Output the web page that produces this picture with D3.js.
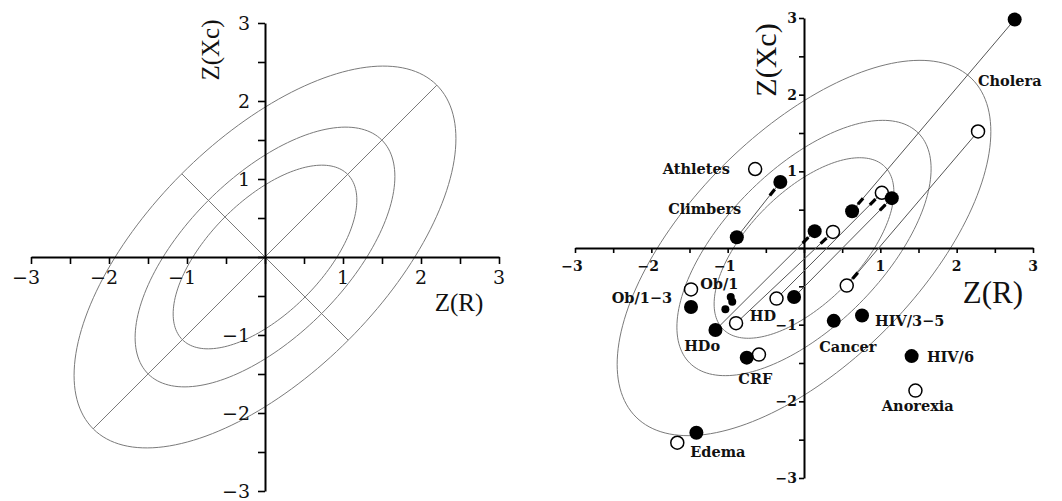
<!DOCTYPE html>
<html>
<head>
<meta charset="utf-8">
<script src="https://cdn.jsdelivr.net/npm/d3@7"></script>
<style>
  body { margin: 0; background: #fff; }
  svg { display: block; }
</style>
</head>
<body>
<svg id="chart" width="1062" height="501"></svg>
<script>
// Z-score axes: labelled ticks and half-unit tick marks
const tickLabels = [-3, -2, -1, 1, 2, 3];
const tickMarks = [-3, -2.5, -2, -1.5, -1, -0.5, 0, 0.5, 1, 1.5, 2, 2.5, 3];

// Tolerance ellipses (probability levels) and the R–Xc correlation
const ellipseLevels = [0.50, 0.75, 0.95];
const correlation = 0.62;

// Group mean vectors, Z(R) and Z(Xc)
const filledPoints = [
  [2.76, 2.98], [0.63, 0.48], [-0.88, 0.14], [-0.31, 0.86],
  [0.14, 0.22], [1.15, 0.65], [-1.48, -0.77], [-1.16, -1.07],
  [-0.13, -0.64], [0.39, -0.95], [0.76, -0.88], [1.41, -1.41],
  [-0.75, -1.43], [-1.41, -2.41]
];
const openPoints = [
  [2.28, 1.52], [0.56, -0.49], [-0.64, 1.03], [0.38, 0.21],
  [1.02, 0.72], [-1.48, -0.54], [-0.89, -0.98], [-0.36, -0.66],
  [-0.59, -1.39], [1.46, -1.86], [-1.66, -2.54]
];
const smallPoints = [[-0.96, -0.64], [-0.94, -0.70], [-1.03, -0.80]];

// Displacement vectors: from -> to
const vectors = [
  [[2.76, 2.98], [0.63, 0.48]],
  [[2.28, 1.52], [0.56, -0.49]],
  [[-0.88, 0.14], [-0.31, 0.86]],
  [[-0.89, -0.98], [0.38, 0.21]],
  [[-1.16, -1.07], [0.14, 0.22]],
  [[-0.36, -0.66], [1.02, 0.72]],
  [[-0.13, -0.64], [1.15, 0.65]]
];

// Group names and their anchor (start of text) in Z units
const groupLabels = [
  ["Athletes", -1.85, 1.04], ["Climbers", -1.78, 0.51], ["Cholera", 2.28, 2.19],
  ["Ob/1\u22123", -2.52, -0.65], ["Ob/1", -1.36, -0.46], ["HD", -0.71, -0.88],
  ["HDo", -1.57, -1.27], ["CRF", -0.86, -1.70], ["Cancer", 0.20, -1.29],
  ["HIV/3\u22125", 0.93, -0.94], ["HIV/6", 1.61, -1.42], ["Anorexia", 1.02, -2.06],
  ["Edema", -1.49, -2.66]
];

const svg = d3.select("#chart");
const minus = v => (v < 0 ? "\u2212" + Math.abs(v) : String(v));

function ellipsePath(level, x, y) {
  const r = Math.sqrt(-2 * Math.log(1 - level));
  const s = Math.sqrt(1 - correlation * correlation);
  const pts = d3.range(0, 361, 2).map(a => {
    const t = a * Math.PI / 180;
    return [r * Math.cos(t), r * (correlation * Math.cos(t) + s * Math.sin(t))];
  });
  return d3.line().x(d => x(d[0])).y(d => y(d[1])).curve(d3.curveLinearClosed)(pts);
}

function drawFrame(g, x, y, opt) {
  // ellipses
  ellipseLevels.forEach(p => {
    g.append("path").attr("d", ellipsePath(p, x, y))
      .attr("fill", "none").attr("stroke", "#7a7a7a").attr("stroke-width", 1);
  });
  // axes
  const xa = d3.axisBottom(x).tickValues(tickMarks).tickFormat("").tickSize(opt.tick).tickSizeOuter(0);
  const ya = d3.axisLeft(y).tickValues(tickMarks).tickFormat("").tickSize(opt.tick).tickSizeOuter(0);
  const gx = g.append("g").attr("transform", `translate(0,${y(0)})`).call(xa);
  const gy = g.append("g").attr("transform", `translate(${x(0)},0)`).call(ya);
  [gx, gy].forEach(a => {
    a.select(".domain").attr("stroke", "#000").attr("stroke-width", 2);
    a.selectAll(".tick line").attr("stroke", "#000").attr("stroke-width", 1.6);
  });
  // tick labels
  g.selectAll(null).data(tickLabels).join("text")
    .attr("x", d => x(d) + (d < 0 ? opt.negShift : 0))
    .attr("y", opt.xLabelY)
    .attr("text-anchor", "middle").attr("dominant-baseline", "central")
    .style("font", opt.tickFont).attr("fill", "#111")
    .text(minus);
  g.selectAll(null).data(tickLabels).join("text")
    .attr("x", x(0) - opt.yLabelGap)
    .attr("y", d => y(d))
    .attr("text-anchor", "end").attr("dominant-baseline", "central")
    .style("font", opt.tickFont).attr("fill", "#111")
    .text(minus);
  // axis titles
  g.append("text").attr("x", opt.rTitle[0]).attr("y", opt.rTitle[1])
    .attr("text-anchor", "middle").attr("dominant-baseline", "central")
    .style("font", opt.titleFont).attr("fill", "#111").text("Z(R)");
  g.append("text")
    .attr("transform", `translate(${opt.xcTitle[0]},${opt.xcTitle[1]}) rotate(-90)`)
    .attr("text-anchor", "middle").attr("dominant-baseline", "central")
    .style("font", opt.xcFont).attr("fill", "#111").text("Z(Xc)");
}

// ---- Left panel: ellipses with principal axes ----
const xL = d3.scaleLinear().domain([-3, 3]).range([31, 499]);
const yL = d3.scaleLinear().domain([-3, 3]).range([491, 23]);
const left = svg.append("g");
const rOuter = Math.sqrt(-2 * Math.log(1 - d3.max(ellipseLevels)));
const aMaj = rOuter * Math.sqrt((1 + correlation) / 2);
const aMin = rOuter * Math.sqrt((1 - correlation) / 2);
[[[-aMaj, -aMaj], [aMaj, aMaj]], [[-aMin, aMin], [aMin, -aMin]]].forEach(seg => {
  left.append("line")
    .attr("x1", xL(seg[0][0])).attr("y1", yL(seg[0][1]))
    .attr("x2", xL(seg[1][0])).attr("y2", yL(seg[1][1]))
    .attr("stroke", "#7a7a7a").attr("stroke-width", 1);
});
drawFrame(left, xL, yL, {
  tick: 7, negShift: -5, xLabelY: 277, yLabelGap: 15,
  tickFont: "19px 'DejaVu Serif'",
  titleFont: "25px 'Liberation Serif'", xcFont: "25px 'Liberation Serif'",
  rTitle: [459, 302], xcTitle: [210, 50]
});

// ---- Right panel: group vectors ----
const xR = d3.scaleLinear().domain([-3, 3]).range([575, 1033]);
const yR = d3.scaleLinear().domain([-3, 3]).range([478, 18]);
const right = svg.append("g");
drawFrame(right, xR, yR, {
  tick: 5, negShift: -3, xLabelY: 266, yLabelGap: 7,
  tickFont: "bold 14px 'DejaVu Serif'",
  titleFont: "31px 'Liberation Serif'", xcFont: "30px 'Liberation Serif'",
  rTitle: [993, 292], xcTitle: [765, 60]
});

// vector lines with a short heavy dash near the arrival point
vectors.forEach(([a, b]) => {
  const x1 = xR(a[0]), y1 = yR(a[1]), x2 = xR(b[0]), y2 = yR(b[1]);
  right.append("line").attr("x1", x1).attr("y1", y1).attr("x2", x2).attr("y2", y2)
    .attr("stroke", "#555").attr("stroke-width", 1);
  const len = Math.hypot(x2 - x1, y2 - y1), ux = (x2 - x1) / len, uy = (y2 - y1) / len;
  right.append("line")
    .attr("x1", x2 - ux * 17).attr("y1", y2 - uy * 17)
    .attr("x2", x2 - ux * 9).attr("y2", y2 - uy * 9)
    .attr("stroke", "#000").attr("stroke-width", 3.2);
});

right.selectAll(null).data(openPoints).join("circle")
  .attr("cx", d => xR(d[0])).attr("cy", d => yR(d[1])).attr("r", 6.5)
  .attr("fill", "#fff").attr("stroke", "#000").attr("stroke-width", 1.5);
right.selectAll(null).data(filledPoints).join("circle")
  .attr("cx", d => xR(d[0])).attr("cy", d => yR(d[1])).attr("r", 7)
  .attr("fill", "#000");
right.selectAll(null).data(smallPoints).join("circle")
  .attr("cx", d => xR(d[0])).attr("cy", d => yR(d[1])).attr("r", 4)
  .attr("fill", "#000");

right.selectAll(null).data(groupLabels).join("text")
  .attr("x", d => xR(d[1])).attr("y", d => yR(d[2]))
  .attr("dominant-baseline", "central")
  .style("font", "bold 14.5px 'DejaVu Serif'").attr("fill", "#111")
  .text(d => d[0]);
</script>
</body>
</html>
